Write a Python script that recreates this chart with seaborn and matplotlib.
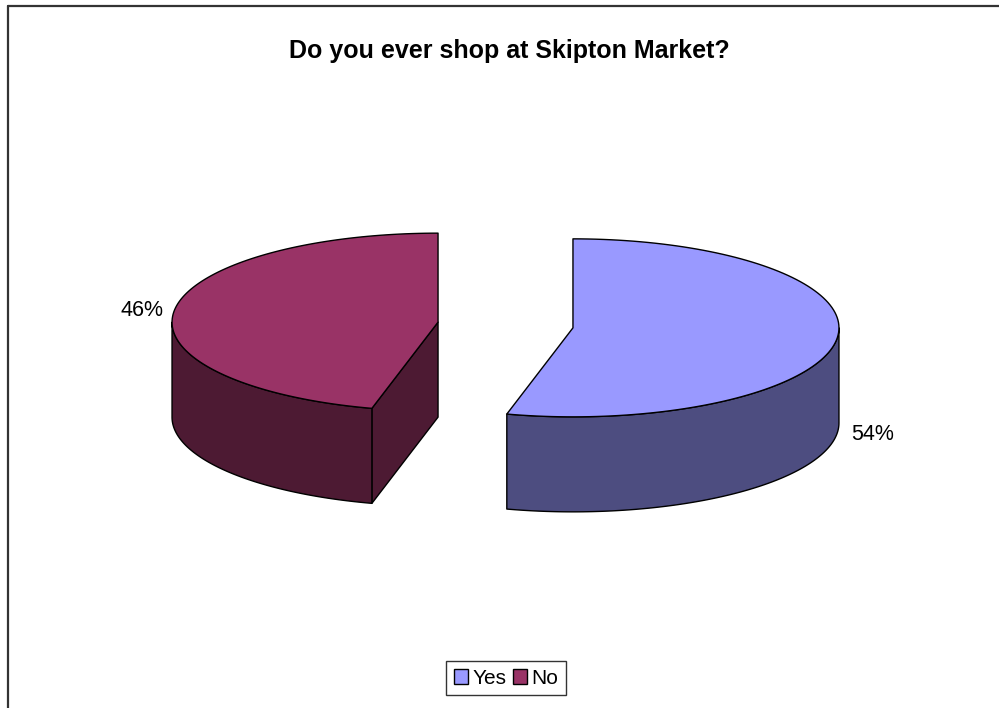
import numpy as np
import matplotlib
matplotlib.use("Agg")
import matplotlib.pyplot as plt
import seaborn as sns
from matplotlib.patches import Patch
from matplotlib.lines import Line2D

# data
labels = ["Yes", "No"]
shares = [54, 46]
top_colors = ["#9999FF", "#993366"]
side_colors = ["#4D4D80", "#4D1A33"]
title = "Do you ever shop at Skipton Market?"

sns.set_theme(style="white")
plt.rcParams['font.family'] = ['Liberation Sans', 'DejaVu Sans']
plt.rcParams['text.color'] = 'black'

# pie layout (pixel units, y down)
CX, CY = 505.5, 325
RX, RY = 266, 89
DEPTH = 95
EXPLODE = 68


def rim(cx, cy, t):
    t = np.radians(t)
    return cx + RX * np.sin(t), cy - RY * np.cos(t)


def arc(cx, cy, t1, t2, n=120):
    ts = np.linspace(t1, t2, n)
    xs, ys = rim(cx, cy, ts)
    return list(xs), list(ys)


fig = plt.figure(figsize=(9.99, 7.08), dpi=100)
ax = fig.add_axes([0, 0, 1, 1])
ax.set_xlim(0, 999)
ax.set_ylim(708, 0)
ax.axis('off')

total = sum(shares)
start = 0.0
for lab, val, ctop, cside in zip(labels, shares, top_colors, side_colors):
    end = start + 360.0 * val / total
    mid = (start + end) / 2
    m = np.radians(mid)
    cx = CX + EXPLODE * np.sin(m)
    cy = CY - EXPLODE * (RY / RX) * np.cos(m)
    ekw = dict(edgecolor='black', linewidth=1.0, joinstyle='round')

    # radial cut faces
    for t, vis in ((start, np.sin(np.radians(start)) < -1e-6),
                   (end, np.sin(np.radians(end)) > 1e-6)):
        if vis:
            px, py = rim(cx, cy, t)
            ax.fill([cx, px, px, cx], [cy, py, py + DEPTH, cy + DEPTH],
                    facecolor=cside, **ekw)

    # outer wall (front half only)
    a1, a2 = max(start, 90), min(end, 270)
    if a2 > a1:
        xs, ys = arc(cx, cy, a1, a2)
        ax.fill(xs + xs[::-1], ys + [y + DEPTH for y in ys[::-1]],
                facecolor=cside, **ekw)

    # top face
    xs, ys = arc(cx, cy, start, end)
    ax.fill([cx] + xs, [cy] + ys, facecolor=ctop, **ekw)

    # percentage label
    lx, ly = rim(cx, cy, mid)
    if np.cos(m) < 0:
        ly += DEPTH
    side = 1 if np.sin(m) > 0 else -1
    ax.text(lx + (14 if side > 0 else -11), ly, f"{val}%", fontsize=15.5,
            ha='left' if side > 0 else 'right', va='center', color='black')
    start = end

ax.text(509, 51, title, fontsize=18, fontweight='bold', ha='center', va='center',
        color='black')

handles = [Patch(facecolor=c, edgecolor='black', linewidth=1.0) for c in top_colors]
leg = fig.legend(handles, labels, loc='center', bbox_to_anchor=(506 / 999, 1 - 678 / 708),
                 ncol=2, fontsize=15, frameon=True, fancybox=False,
                 handlelength=0.7, handleheight=0.7, handletextpad=0.2,
                 columnspacing=0.3, borderpad=0.35, borderaxespad=0,
                 labelcolor='black')
leg.get_frame().set_edgecolor('black')
leg.get_frame().set_linewidth(1.0)

# chart area border (top and left edges visible)
fig.add_artist(Line2D([7.5 / 999, 1], [1 - 5.5 / 708] * 2, color='#333333', lw=1.6))
fig.add_artist(Line2D([7.5 / 999] * 2, [0, 1 - 5.5 / 708], color='#333333', lw=1.6))

fig.savefig("out.png", dpi=100)
